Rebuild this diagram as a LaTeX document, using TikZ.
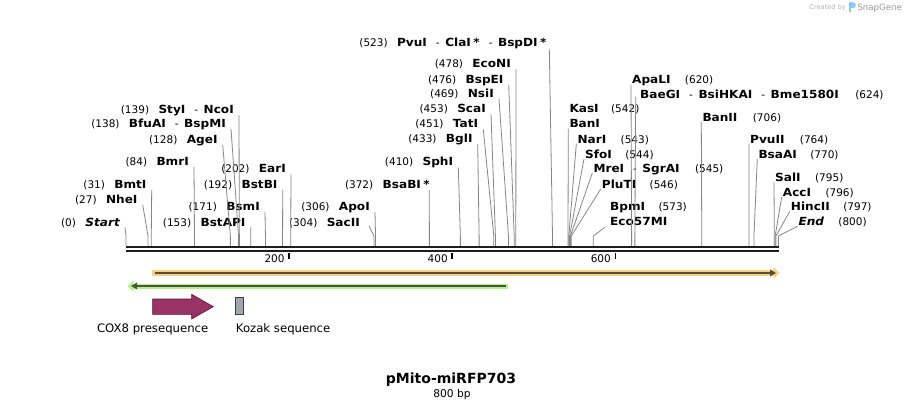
\documentclass[tikz,border=0pt]{standalone}
\usepackage{fontspec}
\setmainfont{DejaVu Sans}
\newfontfamily\enzfont{DejaVu Sans}[FakeStretch=1.08]
\usetikzlibrary{arrows.meta, calc, positioning}
\definecolor{cutgray}{RGB}{135,135,135}
\definecolor{spinecol}{RGB}{30,30,30}
\definecolor{orangepale}{RGB}{252,208,128}
\definecolor{orangedark}{RGB}{90,76,58}
\definecolor{greenpale}{RGB}{182,240,140}
\definecolor{greendark}{RGB}{72,86,58}
\definecolor{coxfill}{RGB}{153,51,102}
\definecolor{coxline}{RGB}{85,25,55}
\definecolor{kozakfill}{RGB}{162,166,173}
\definecolor{snapgray}{RGB}{178,178,178}
\definecolor{snapblue}{RGB}{140,200,238}
\newcommand{\enz}[1]{{\enzfont\bfseries\fontsize{11.2}{13}\selectfont #1}}
\newcommand{\dsep}{\hspace{9pt}-\hspace{5.5pt}}
\newcommand{\enzstar}{\hspace{2.5pt}\enz{*}}
\tikzstyle{enz} = [inner sep=0pt, font=\fontsize{10.5}{12}\selectfont]
\tikzstyle{num} = [inner sep=0pt, font=\fontsize{10.5}{12}\selectfont]
\tikzstyle{feat} = [inner sep=0pt, font=\fontsize{11.7}{13}\selectfont]
\tikzstyle{cutline} = [cutgray, line width=0.8pt]
\tikzstyle{spine} = [spinecol, line width=2.3pt]
\tikzstyle{tick} = [black, line width=1.6pt]
\tikzstyle{halo} = [line width=5.4pt, -{Triangle[length=6pt, width=11pt]}]
\tikzstyle{core} = [line width=1.8pt, -{Triangle[length=6pt, width=6.5pt]}]

\begin{document}
\begin{tikzpicture}[x=1pt, y=-1pt, node distance=9pt]
	\fill[white] (0,0) rectangle (906,409);
	\useasboundingbox (0,0) rectangle (906,409);

	% sites on the sequence (800 bp)
	\foreach \n/\b in {Start/0, NheI/27, BmtI/31, BmrI/84, AgeI/128, BfuAI/138, StyI/139, BstAPI/153, BsmI/171, BstBI/192, EarI/202, SacII/304, ApoI/306, BsaBI/372, SphI/410, BglI/433, TatI/451, ScaI/453, NsiI/469, BspEI/476, EcoNI/478, PvuI/523, BanI/542, NarI/543, SfoI/544, MreI/545, PluTI/546, Eco57MI/573, ApaLI/620, BaeGI/624, BanII/706, PvuII/764, BsaAI/770, SalI/795, AccI/796, HincII/797, End/800}
		\coordinate (s\n) at ({126+0.8155*\b},236);

	% enzymes left of their line
	\node (PvuI) [enz, anchor=base east] at (546.7,46.3) {\enz{PvuI}\dsep\enz{ClaI}\enzstar\dsep\enz{BspDI}\enzstar};
	\node (PvuIn) [num, base left=of PvuI] {(523)};
	\node (EcoNI) [enz, anchor=base east] at (511,67.7) {\enz{EcoNI}};
	\node (EcoNIn) [num, base left=of EcoNI] {(478)};
	\node (BspEI) [enz, anchor=base east] at (503.7,83.3) {\enz{BspEI}};
	\node (BspEIn) [num, base left=of BspEI] {(476)};
	\node (NsiI) [enz, anchor=base east] at (494,97.3) {\enz{NsiI}};
	\node (NsiIn) [num, base left=of NsiI] {(469)};
	\node (ScaI) [enz, anchor=base east] at (486,113) {\enz{ScaI}};
	\node (ScaIn) [num, base left=of ScaI] {(453)};
	\node (TatI) [enz, anchor=base east] at (478.3,128) {\enz{TatI}};
	\node (TatIn) [num, base left=of TatI] {(451)};
	\node (BglI) [enz, anchor=base east] at (472.7,142.7) {\enz{BglI}};
	\node (BglIn) [num, base left=of BglI] {(433)};
	\node (SphI) [enz, anchor=base east] at (453.3,166) {\enz{SphI}};
	\node (SphIn) [num, base left=of SphI] {(410)};
	\node (BsaBI) [enz, anchor=base east] at (430,188.3) {\enz{BsaBI}\enzstar};
	\node (BsaBIn) [num, base left=of BsaBI] {(372)};
	\node (ApoI) [enz, anchor=base east] at (370,210.7) {\enz{ApoI}};
	\node (ApoIn) [num, base left=of ApoI] {(306)};
	\node (SacII) [enz, anchor=base east] at (360,226.3) {\enz{SacII}};
	\node (SacIIn) [num, base left=of SacII] {(304)};
	\node (StyI) [enz, anchor=base east] at (234,114) {\enz{StyI}\dsep\enz{NcoI}};
	\node (StyIn) [num, base left=of StyI] {(139)};
	\node (BfuAI) [enz, anchor=base east] at (226,127.3) {\enz{BfuAI}\dsep\enz{BspMI}};
	\node (BfuAIn) [num, base left=of BfuAI] {(138)};
	\node (AgeI) [enz, anchor=base east] at (217.7,143.3) {\enz{AgeI}};
	\node (AgeIn) [num, base left=of AgeI] {(128)};
	\node (BmrI) [enz, anchor=base east] at (189,165.7) {\enz{BmrI}};
	\node (BmrIn) [num, base left=of BmrI] {(84)};
	\node (EarI) [enz, anchor=base east] at (286,173) {\enz{EarI}};
	\node (EarIn) [num, base left=of EarI] {(202)};
	\node (BmtI) [enz, anchor=base east] at (146.7,188.3) {\enz{BmtI}};
	\node (BmtIn) [num, base left=of BmtI] {(31)};
	\node (BstBI) [enz, anchor=base east] at (277.7,188.3) {\enz{BstBI}};
	\node (BstBIn) [num, base left=of BstBI] {(192)};
	\node (NheI) [enz, anchor=base east] at (137.7,203.3) {\enz{NheI}};
	\node (NheIn) [num, base left=of NheI] {(27)};
	\node (BsmI) [enz, anchor=base east] at (260,210.7) {\enz{BsmI}};
	\node (BsmIn) [num, base left=of BsmI] {(171)};
	\node (Start) [enz, anchor=base east] at (120,226) {\enz{\itshape Start}};
	\node (Startn) [num, base left=of Start] {(0)};
	\node (BstAPI) [enz, anchor=base east] at (245.7,226) {\enz{BstAPI}};
	\node (BstAPIn) [num, base left=of BstAPI] {(153)};

	% enzymes right of their line
	\node (ApaLI) [enz, anchor=base west] at (632,84) {\enz{ApaLI}};
	\node (ApaLIn) [num, base right=14pt of ApaLI] {(620)};
	\node (BaeGI) [enz, anchor=base west] at (640,98.3) {\enz{BaeGI}\dsep\enz{BsiHKAI}\dsep\enz{Bme1580I}};
	\node (BaeGIn) [num, base right=16pt of BaeGI] {(624)};
	\node (KasI) [enz, anchor=base west] at (569.3,113) {\enz{KasI}};
	\node (KasIn) [num, base right=12pt of KasI] {(542)};
	\node (BanI) [enz, anchor=base west] at (569.3,128) {\enz{BanI}};
	\node (NarI) [enz, anchor=base west] at (577.3,143.3) {\enz{NarI}};
	\node (NarIn) [num, base right=14pt of NarI] {(543)};
	\node (SfoI) [enz, anchor=base west] at (585,158.3) {\enz{SfoI}};
	\node (SfoIn) [num, base right=13pt of SfoI] {(544)};
	\node (MreI) [enz, anchor=base west] at (593.3,172.3) {\enz{MreI}\dsep\enz{SgrAI}};
	\node (MreIn) [num, base right=15pt of MreI] {(545)};
	\node (PluTI) [enz, anchor=base west] at (601.7,188.3) {\enz{PluTI}};
	\node (PluTIn) [num, base right=13pt of PluTI] {(546)};
	\node (BpmI) [enz, anchor=base west] at (610,210.7) {\enz{BpmI}};
	\node (BpmIn) [num, base right=13pt of BpmI] {(573)};
	\node (Eco57MI) [enz, anchor=base west] at (610,225.7) {\enz{Eco57MI}};
	\node (BanII) [enz, anchor=base west] at (702.3,121.3) {\enz{BanII}};
	\node (BanIIn) [num, base right=15pt of BanII] {(706)};
	\node (PvuII) [enz, anchor=base west] at (750,143.3) {\enz{PvuII}};
	\node (PvuIIn) [num, base right=15pt of PvuII] {(764)};
	\node (BsaAI) [enz, anchor=base west] at (758.3,158.3) {\enz{BsaAI}};
	\node (BsaAIn) [num, base right=13pt of BsaAI] {(770)};
	\node (SalI) [enz, anchor=base west] at (775,181.3) {\enz{SalI}};
	\node (SalIn) [num, base right=14pt of SalI] {(795)};
	\node (AccI) [enz, anchor=base west] at (782.7,196.3) {\enz{AccI}};
	\node (AccIn) [num, base right=14pt of AccI] {(796)};
	\node (HincII) [enz, anchor=base west] at (790.7,210.7) {\enz{HincII}};
	\node (HincIIn) [num, base right=13pt of HincII] {(797)};
	\node (End) [enz, anchor=base west] at (798.3,225.7) {\enz{\itshape End}};
	\node (Endn) [num, base right=14pt of End] {(800)};

	% lines down to the map
	\foreach \n in {EcoNI, BspEI, NsiI, ScaI, TatI, BglI, SphI, ApoI, StyI, BfuAI, AgeI, BmrI, EarI, BmtI, BstBI, NheI, BsmI, Start, BstAPI}
		\draw [cutline] ($(\n.base east)+(5,1.5)$) -- (s\n) -- ++(0,10);
	\foreach \n in {ApaLI, BanI, NarI, SfoI, MreI, PluTI, BanII, PvuII, BsaAI, SalI, AccI, HincII, End}
		\draw [cutline] ($(\n.base west)+(-1,0.7)$) -- (s\n) -- ++(0,10);
	\draw [cutline] ($(PvuI.base east)+(2.6,2.7)$) -- (sPvuI) -- ++(0,10);
	\draw [cutline] ($(BsaBI.base east)+(-0.7,1.7)$) -- (sBsaBI) -- ++(0,10);
	\draw [cutline] ($(SacII.base east)+(9,-0.6)$) -- (sSacII) -- ++(0,10);
	\draw [cutline] ($(BaeGI.base west)+(-4.3,-1.6)$) -- (sBaeGI) -- ++(0,10);
	\draw [cutline] ($(Eco57MI.base west)+(-5,1.6)$) -- (sEco57MI) -- ++(0,10);

	% sequence and ruler
	\draw [spine] (126,247.1) -- (779.3,247.1);
	\draw [spine] (126,251.1) -- (779.3,251.1);
	\foreach \t in {200,400,600} {
		\draw [tick] ({126+0.8155*\t},253.3) -- ++(0,6);
		\node (t\t) [num, anchor=base east] at ({126+0.8155*\t-4.3},262.3) {\t};
	}

	% features
	\draw [halo, orangepale] (152.3,273) -- (779.5,273);
	\draw [core, orangedark] (154.5,273) -- (776,273);
	\draw [halo, greenpale, line width=5pt] (508.3,286) -- (127.5,286);
	\draw [core, greendark] (506,286) -- (131,286);
	\draw [fill=coxfill, draw=coxline, line width=0.6pt] (152.7,299) -- (191.7,299) -- (191.7,294.3) -- (213.3,306.7) -- (191.7,319) -- (191.7,314.3) -- (152.7,314.3) -- cycle;
	\draw [fill=kozakfill, draw=black!75, line width=0.6pt] (235.7,297.7) rectangle (243.3,314.3);
	\node (COX8) [feat, anchor=base] at (152.7,332) {COX8 presequence};
	\node (Kozak) [feat, anchor=base west] at (235.7,332) {Kozak sequence};

	% name and size
	\node (title) [inner sep=0pt, font=\bfseries\fontsize{14}{16}\selectfont, anchor=base] at (451,383.5) {pMito-miRFP703};
	\node (size) [inner sep=0pt, font=\fontsize{10.7}{12}\selectfont, anchor=base] at (452,397.3) {800 bp};

	% credit
	\node (credit) [inner sep=0pt, anchor=base east, text=snapgray, font=\fontsize{6.6}{8}\selectfont] at (846,9.8) {Created by};
	\fill [snapblue, rounded corners=1.5pt] (849.3,2.5) rectangle (855.5,8);
	\fill [snapblue] (849.3,2.5) rectangle (851.3,11.7);
	\node (snap) [inner sep=0pt, anchor=base west, text=snapgray!85!black, font=\fontsize{8.6}{10}\selectfont] at (857.3,10.5) {SnapGene};
\end{tikzpicture}
\end{document}
